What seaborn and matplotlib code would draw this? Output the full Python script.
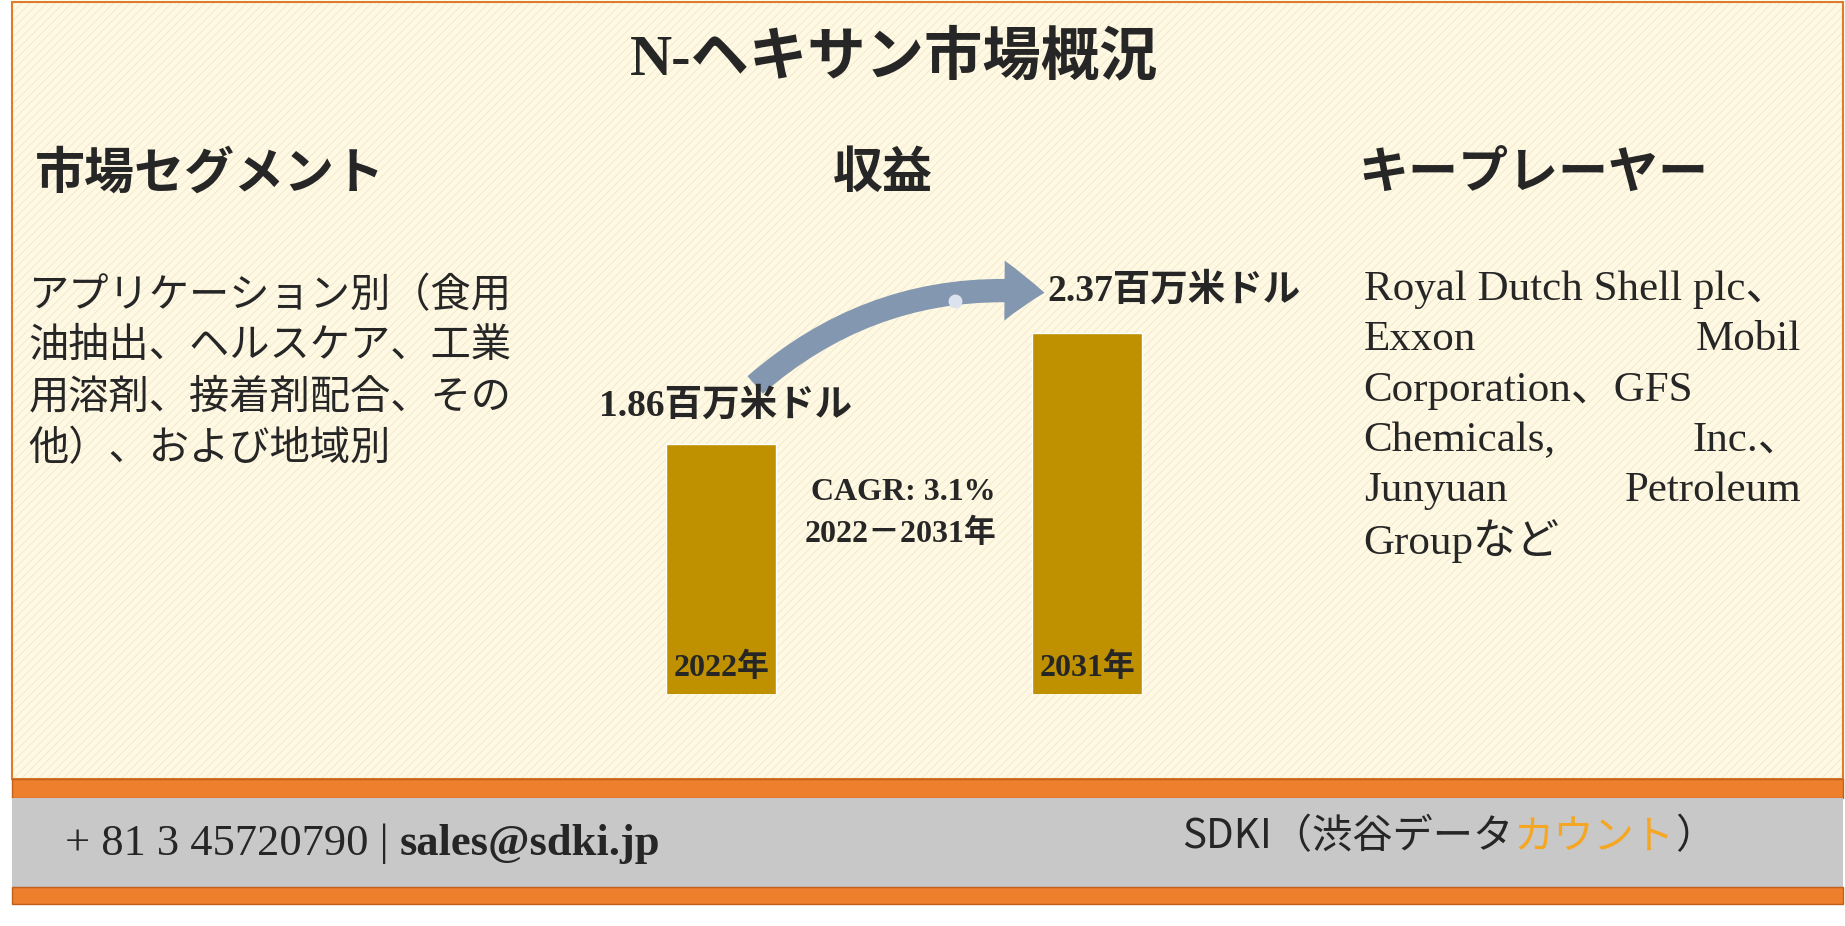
import numpy as np
import pandas as pd
import matplotlib.pyplot as plt
import seaborn as sns
from matplotlib.patches import Rectangle, FancyArrowPatch

years = ["2022年", "2031年"]
revenue = [1.86, 2.37]
value_labels = ["1.86百万米ドル", "2.37百万米ドル"]
segment_lines = ["アプリケーション別（食用", "油抽出、ヘルスケア、工業", "用溶剤、接着剤配合、その", "他）、および地域別"]
player_lines = [("Royal Dutch Shell plc、", ""), ("Exxon", "Mobil"), ("Corporation、GFS", ""),
                ("Chemicals,", "Inc.、"), ("Junyuan", "Petroleum"), ("Groupなど", "")]

sns.set_theme(style="white")
SERIF = ["Liberation Serif", "Noto Sans CJK JP"]
SANS = ["Noto Sans CJK JP", "DejaVu Sans"]
plt.rcParams['font.family'] = SERIF
plt.rcParams['hatch.color'] = "#EFE8CF"
plt.rcParams['hatch.linewidth'] = 0.6

W, H = 1568.0, 790.0
fig = plt.figure(figsize=(18.45, 9.26), dpi=100)
bg = fig.add_axes([0, 0, 1, 1])
bg.set_xlim(0, W)
bg.set_ylim(H, 0)
bg.axis('off')

# panel background
bg.add_patch(Rectangle((10, 2), 1556, 663, facecolor="#FFF9E3", edgecolor="none", zorder=0))
bg.add_patch(Rectangle((10, 2), 1556, 663, facecolor="none", edgecolor="#EFE8CF", lw=0,
                       hatch="////", zorder=0))
bg.add_patch(Rectangle((10, 2), 1556, 663, facecolor="none", edgecolor="#E07B2A", lw=1.5, zorder=1))
# footer bands
bg.add_patch(Rectangle((10, 665), 1556, 16, facecolor="#EE7F2D", edgecolor="#C0601E", lw=1))
bg.add_patch(Rectangle((10, 681), 1556, 76, facecolor="#C8C8C8", edgecolor="none"))
bg.add_patch(Rectangle((10, 757), 1556, 14, facecolor="#EE7F2D", edgecolor="#C0601E", lw=1))

bg.text(760, 50, "N-ヘキサン市場概況", ha="center", va="center", fontsize=42, fontweight="bold")
bg.text(178, 150, "市場セグメント", ha="center", va="center", fontsize=36, fontweight="bold")
bg.text(750, 150, "収益", ha="center", va="center", fontsize=36, fontweight="bold")
bg.text(1303, 150, "キープレーヤー", ha="center", va="center", fontsize=36, fontweight="bold")

for i, line in enumerate(segment_lines):
    bg.text(24, 253 + i * 43.5, line, ha="left", va="center", fontsize=29)

for i, (left, right) in enumerate(player_lines):
    y = 247 + i * 43
    bg.text(1159, y, left, ha="left", va="center", fontsize=31)
    if right:
        bg.text(1531, y, right, ha="right", va="center", fontsize=31)

# bar chart
ax = fig.add_axes([457.5 / W, 1 - 592 / H, 622 / W, (592 - 200) / H])
df = pd.DataFrame({"year": years, "revenue": revenue})
sns.barplot(data=df, x="year", y="revenue", ax=ax, color="#BF9000", width=0.3, saturation=1)
ax.set_ylim(0.7166, 0.7166 + (2.37 - 0.7166) * (392 / 308))
ax.set_xlim(-0.5, 1.5)
ax.axis('off')
for i, p in enumerate(ax.patches):
    p.set_zorder(3)
    cx = p.get_x() + p.get_width() / 2
    ax.text(cx, 0.7166 + 0.05, years[i], ha="center", va="bottom", fontsize=23, fontweight="bold", zorder=4)
bg.text(617, 346, value_labels[0], ha="center", va="center", fontsize=27, fontweight="bold")
bg.text(998, 248, value_labels[1], ha="center", va="center", fontsize=27, fontweight="bold")
bg.text(768, 420, "CAGR: 3.1%", ha="center", va="center", fontsize=23, fontweight="bold")
bg.text(765, 455, "2022－2031年", ha="center", va="center", fontsize=23, fontweight="bold")

arrow = FancyArrowPatch((640, 330), (890, 250), connectionstyle="arc3,rad=-0.22",
                        arrowstyle="simple,head_width=3.6,head_length=2.4,tail_width=1.4",
                        mutation_scale=12, color="#8497B0", lw=0)
bg.add_patch(arrow)
bg.plot([812], [257], "o", color="#DCE3EE", ms=9)

# footer text, pieces chained by measured width
fig.canvas.draw()
r = fig.canvas.get_renderer()
inv = bg.transData.inverted()


def chain(x, y, pieces):
    for s, kw in pieces:
        t = bg.text(x, y, s, ha="left", va="center", **kw)
        bb = t.get_window_extent(renderer=r)
        x = inv.transform((bb.x1, bb.y0))[0]
    return x


chain(55, 720, [("+ 81 3 45720790 | ", dict(fontsize=32)),
                ("sales@sdki.jp", dict(fontsize=32, fontweight="bold"))])
chain(1005, 714, [("SDKI（渋谷データ", dict(fontsize=29, family=SANS)),
                  ("カウント", dict(fontsize=29, family=SANS, color="#F5A623")),
                  ("）", dict(fontsize=29, family=SANS))])

fig.savefig("out.png", dpi=100)
